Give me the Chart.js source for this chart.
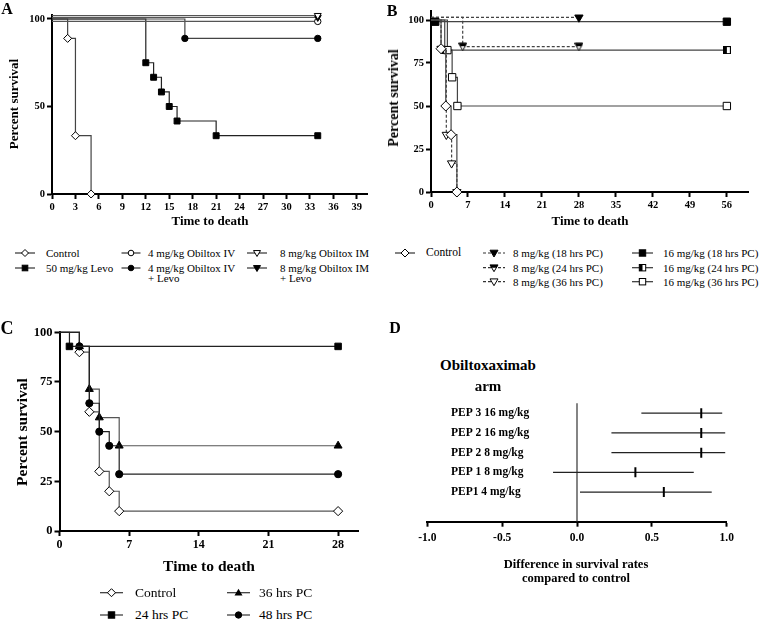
<!DOCTYPE html>
<html><head><meta charset="utf-8">
<script src="https://cdn.jsdelivr.net/npm/chart.js@4.4.1/dist/chart.umd.min.js"></script>
<style>
html,body{margin:0;padding:0;background:#fff;}
#root{position:relative;width:760px;height:622px;overflow:hidden;font-family:"Liberation Serif","Times New Roman",serif;color:#000;}
canvas{position:absolute;}
.t{position:absolute;white-space:nowrap;line-height:1;}
.c{transform:translate(-50%,-50%);}
.r{transform:translate(-50%,-50%) rotate(-90deg);}
.b{font-weight:bold;}
.lg{position:absolute;white-space:nowrap;line-height:1;transform:translateY(-50%);}
#sym{position:absolute;left:0;top:0;overflow:visible;}
</style></head><body><div id="root">
<canvas id="cA" width="380" height="225" style="left:0;top:0"></canvas>
<canvas id="cB" width="380" height="225" style="left:380px;top:0"></canvas>
<canvas id="cC" width="380" height="260" style="left:0;top:300px"></canvas>
<canvas id="cD" width="370" height="160" style="left:390px;top:390px"></canvas>

<div class="t c b" style="left:7px;top:9px;font-size:16px">A</div>
<div class="t c b" style="left:392px;top:11px;font-size:16px">B</div>
<div class="t c b" style="left:7px;top:328px;font-size:18px">C</div>
<div class="t c b" style="left:395px;top:328px;font-size:16px">D</div>

<div class="t r b" style="left:13px;top:104px;font-size:13px">Percent survival</div>
<div class="t c b" style="left:210px;top:220px;font-size:13px">Time to death</div>
<div class="t r b" style="left:394px;top:98px;font-size:14px">Percent survival</div>
<div class="t c b" style="left:590px;top:220px;font-size:13px">Time to death</div>
<div class="t r b" style="left:22px;top:432px;font-size:15.5px">Percent survival</div>
<div class="t c b" style="left:209px;top:566px;font-size:15.5px">Time to death</div>
<div class="t c b" style="left:488px;top:365px;font-size:15px">Obiltoxaximab</div>
<div class="t c b" style="left:488px;top:386px;font-size:15px">arm</div>
<div class="t c b" style="left:576px;top:564px;font-size:12.5px">Difference in survival rates</div>
<div class="t c b" style="left:576px;top:578px;font-size:12.5px">compared to control</div>

<div id="legends"></div>
<svg id="sym" width="760" height="622"></svg>
</div>
<script>
// ---------------- Panel A data ----------------
const aTicksX = [0,3,6,9,12,15,18,21,24,27,30,33,36,39];
const aTicksY = [0,50,100];
const aControlX = [0,2,3,5];
const aControlY = [100,88.9,33.3,0];
const aLevoX = [0,12,13,14,15,16,21,34];
const aLevoY = [100,75,66.7,58.3,50,41.7,33.3,33.3];
const aIV4X = [0,34];
const aIV4Y = [98.6,98.6];
const aIV4LevoX = [0,17,34];
const aIV4LevoY = [100,88.9,88.9];
const aIM8X = [0,34];
const aIM8Y = [102,102];
const aIM8LevoX = [0,34];
const aIM8LevoY = [100.9,100.9];

// ---------------- Panel B data ----------------
const bTicksX = [0,7,14,21,28,35,42,49,56];
const bTicksY = [0,25,50,75,100];
const bControlX = [0,1.9,2.8,3.8,4.9];
const bControlY = [100,83.3,50,33.3,0];
const b8h18X = [0,28];
const b8h18Y = [101.5,101.5];
const b8h24X = [0,6,28];
const b8h24Y = [101.5,84.5,84.5];
const b8h36X = [0,1.9,2.9,3.9,4.9];
const b8h36Y = [100,83.3,33.3,16.7,0];
const b16h18X = [0,0.8,56];
const b16h18Y = [99,99,99];
const b16h24X = [0,2.6,56];
const b16h24Y = [100,82.5,82.5];
const b16h36X = [0,3.1,4,5,56];
const b16h36Y = [100,82.5,66.7,50,50];

// ---------------- Panel C data ----------------
const cTicksX = [0,7,14,21,28];
const cTicksY = [0,25,50,75,100];
const cControlX = [0,2,3,4,5,6,28];
const cControlY = [100,90,60,30,20,10,10];
const c24X = [0,1,28];
const c24Y = [100,92.9,92.9];
const c36X = [0,2,3,4,6,28];
const c36Y = [100,92.9,71.4,57.1,42.9,42.9];
const c48X = [0,2,3,4,5,6,28];
const c48Y = [100,92.9,64.3,50,42.9,28.6,28.6];

// ---------------- Panel D data ----------------
const dTicksX = [-1,-0.5,0,0.5,1];
const dArms = ['PEP 3 16 mg/kg','PEP 2 16 mg/kg','PEP 2 8 mg/kg','PEP 1 8 mg/kg','PEP1 4 mg/kg'];
const dEst  = [0.83,0.83,0.83,0.39,0.58];
const dLow  = [0.43,0.23,0.23,-0.16,0.02];
const dHigh = [0.97,0.99,0.99,0.78,0.90];

// ---------------- helpers ----------------
const FONT = 'Liberation Serif';
function halfSquare(n){
  const c=document.createElement('canvas'); c.width=c.height=n;
  const x=c.getContext('2d');
  x.fillStyle='#fff'; x.fillRect(0,0,n,n);
  x.fillStyle='#000'; x.fillRect(0,0,n/2,n);
  x.strokeStyle='#000'; x.lineWidth=1; x.strokeRect(0.5,0.5,n-1,n-1);
  return c;
}
function halfTriDown(n){
  const c=document.createElement('canvas'); c.width=c.height=n;
  const x=c.getContext('2d');
  x.beginPath(); x.moveTo(0.5,1); x.lineTo(n-0.5,1); x.lineTo(n/2,n-0.5); x.closePath();
  x.fillStyle='#fff'; x.fill();
  x.save(); x.clip(); x.fillStyle='#000'; x.fillRect(0,0,n,n*0.45); x.restore();
  x.strokeStyle='#000'; x.lineWidth=1; x.stroke();
  return c;
}
const SH = {
  diamondOpen:{ps:'rectRot',bg:'#fff'},
  circleOpen:{ps:'circle',bg:'#fff'},
  circleFilled:{ps:'circle',bg:'#000'},
  squareFilled:{ps:'rect',bg:'#000'},
  squareOpen:{ps:'rect',bg:'#fff'},
  squareHalf:{ps:halfSquare(8),bg:'#000'},
  triDownOpen:{ps:'triangle',bg:'#fff',rot:180},
  triDownFilled:{ps:'triangle',bg:'#000',rot:180},
  triDownHalf:{ps:halfTriDown(9),bg:'#000'},
  triUpFilled:{ps:'triangle',bg:'#000'}
};
function km(xs, ys, shape, r, opt){
  opt = opt || {};
  const s = SH[shape];
  return {
    data: xs.map((x,i)=>({x:x, y:ys[i]})),
    stepped: true,
    borderColor: opt.color || '#333',
    borderWidth: opt.lw || 1.2,
    borderDash: opt.dash || [],
    pointStyle: s.ps,
    pointRotation: s.rot || 0,
    pointRadius: xs.map((_,i)=> i===0 ? 0 : r),
    pointBackgroundColor: s.bg,
    pointBorderColor: '#000',
    pointBorderWidth: 1,
    fill: false,
    clip: false
  };
}
function xAxis(min,max,ticks,h,fs,fmt){
  return {
    type:'linear', position:'bottom', min:min, max:max,
    afterBuildTicks: s=>{ s.ticks = ticks.map(v=>({value:v})); },
    afterFit: s=>{ s.height = h; },
    grid:{display:true,drawOnChartArea:false,drawTicks:true,tickLength:5,tickWidth:2,tickColor:'#000',color:'#000'},
    border:{display:true,width:2,color:'#000'},
    ticks:{autoSkip:false,maxRotation:0,minRotation:0,color:'#000',padding:2,
      font:{family:FONT,weight:'bold',size:fs}, callback: fmt || (v=>String(v))}
  };
}
function yAxis(min,max,ticks,w,fs){
  return {
    type:'linear', position:'left', min:min, max:max,
    afterBuildTicks: s=>{ s.ticks = ticks.map(v=>({value:v})); },
    afterFit: s=>{ s.width = w; },
    grid:{display:true,drawOnChartArea:false,drawTicks:true,tickLength:5,tickWidth:2,tickColor:'#000',color:'#000'},
    border:{display:true,width:2,color:'#000'},
    ticks:{autoSkip:false,color:'#000',padding:2,font:{family:FONT,weight:'bold',size:fs}, callback:v=>String(v)}
  };
}
function base(pad){
  return {
    responsive:false, animation:false, events:[],
    layout:{padding:pad},
    plugins:{legend:{display:false},tooltip:{enabled:false},title:{display:false}}
  };
}

// ---------------- Panel A chart ----------------
(function(){
  const o = base({top:14.6,right:13,left:0,bottom:0});
  o.scales = { x: xAxis(0,40.3,aTicksX,31,10.5), y: yAxis(0,102.5,aTicksY,52,10.5) };
  new Chart(document.getElementById('cA'), {
    type:'line',
    data:{datasets:[
      km(aIM8X,aIM8Y,'triDownOpen',4,{color:'#555'}),
      km(aIM8LevoX,aIM8LevoY,'triDownFilled',4,{color:'#555'}),
      km(aIV4X,aIV4Y,'circleOpen',3.2,{color:'#555'}),
      km(aIV4LevoX,aIV4LevoY,'circleFilled',3.2,{color:'#444'}),
      km(aLevoX,aLevoY,'squareFilled',4.2,{color:'#222'}),
      km(aControlX,aControlY,'diamondOpen',4,{color:'#444'})
    ]},
    options:o
  });
})();

// ---------------- Panel B chart ----------------
(function(){
  const o = base({top:11.4,right:12,left:0,bottom:0});
  o.scales = { x: xAxis(0,60,bTicksX,33,10.5), y: yAxis(0,105,bTicksY,51,10.5) };
  new Chart(document.getElementById('cB'), {
    type:'line',
    data:{datasets:[
      km(bControlX,bControlY,'diamondOpen',5,{color:'#444'}),
      km(b8h36X,b8h36Y,'triDownOpen',4.8,{color:'#444',dash:[3,2]}),
      km(b8h24X,b8h24Y,'triDownHalf',4.8,{color:'#444',dash:[3,2]}),
      km(b8h18X,b8h18Y,'triDownFilled',4.8,{color:'#444',dash:[3,2]}),
      km(b16h36X,b16h36Y,'squareOpen',5.2,{color:'#444'}),
      km(b16h24X,b16h24Y,'squareHalf',5.2,{color:'#444'}),
      km(b16h18X,b16h18Y,'squareFilled',5.2,{color:'#444'})
    ]},
    options:o
  });
})();

// ---------------- Panel C chart ----------------
(function(){
  const o = base({top:32.3,right:22,left:0,bottom:0});
  o.scales = { x: xAxis(0,30,cTicksX,29,12), y: yAxis(0,100,cTicksY,59.5,12.5) };
  new Chart(document.getElementById('cC'), {
    type:'line',
    data:{datasets:[
      km(c24X,c24Y,'squareFilled',4.6,{color:'#222'}),
      km(c48X,c48Y,'circleFilled',3.6,{color:'#222'}),
      km(c36X,c36Y,'triUpFilled',4.6,{color:'#555'}),
      km(cControlX,cControlY,'diamondOpen',4.6,{color:'#555'})
    ]},
    options:o
  });
})();

// ---------------- Panel D chart ----------------
(function(){
  const o = base({top:13.3,right:33.3,left:37.3,bottom:0});
  const x = xAxis(-1,1,dTicksX,28.3,11.5,v=>Number(v).toFixed(1));
  x.ticks.padding = 4;
  o.scales = { x: x, y:{type:'linear',display:false,min:-0.5,max:5.5} };
  const ds = [];
  ds.push({data:dEst.map((e,i)=>({x:e,y:dArms.length-i})), showLine:false,
    pointStyle:'line', pointRotation:90, pointRadius:5, pointBorderWidth:2,
    pointBorderColor:'#000', pointBackgroundColor:'#000'});
  dArms.forEach((a,i)=>{
    ds.push({data:[{x:dLow[i],y:dArms.length-i},{x:dHigh[i],y:dArms.length-i}],
      borderColor:'#222', borderWidth:1.3, pointRadius:0, fill:false});
  });
  ds.push({data:[{x:0,y:-0.5},{x:0,y:5.5}], borderColor:'#333', borderWidth:1.2, pointRadius:0, fill:false, clip:false});
  const labels = {
    id:'armLabels',
    afterDraw(chart){
      const ctx = chart.ctx, ys = chart.scales.y;
      ctx.save();
      ctx.font = 'bold 11.5px "'+FONT+'"';
      ctx.fillStyle = '#000'; ctx.textAlign='left'; ctx.textBaseline='middle';
      dArms.forEach((a,i)=> ctx.fillText(a, 61, ys.getPixelForValue(dArms.length-i)));
      ctx.restore();
    }
  };
  new Chart(document.getElementById('cD'), {type:'line', data:{datasets:ds}, options:o, plugins:[labels]});
})();

// ---------------- Legends ----------------
function shapeSVG(type,cx,cy,s){
  const f = /Filled/.test(type) ? '#000' : '#fff';
  if (/^diamond/.test(type)) return `<polygon points="${cx},${cy-s} ${cx+s},${cy} ${cx},${cy+s} ${cx-s},${cy}" fill="${f}" stroke="#000" stroke-width="1"/>`;
  if (/^circle/.test(type)) return `<circle cx="${cx}" cy="${cy}" r="${s*0.8}" fill="${f}" stroke="#000" stroke-width="1"/>`;
  if (/^square/.test(type)) {
    let t = `<rect x="${cx-s*0.8}" y="${cy-s*0.8}" width="${s*1.6}" height="${s*1.6}" fill="${f}" stroke="#000" stroke-width="1"/>`;
    if (/Half/.test(type)) t += `<rect x="${cx-s*0.8}" y="${cy-s*0.8}" width="${s*0.8}" height="${s*1.6}" fill="#000"/>`;
    return t;
  }
  if (/^triDown/.test(type)) {
    let t = `<polygon points="${cx-s},${cy-s*0.7} ${cx+s},${cy-s*0.7} ${cx},${cy+s}" fill="${f}" stroke="#000" stroke-width="1"/>`;
    if (/Half/.test(type)) t += `<polygon points="${cx-s},${cy-s*0.7} ${cx+s},${cy-s*0.7} ${cx+s*0.6},${cy} ${cx-s*0.6},${cy}" fill="#000"/>`;
    return t;
  }
  if (/^triUp/.test(type)) return `<polygon points="${cx-s},${cy+s*0.7} ${cx+s},${cy+s*0.7} ${cx},${cy-s}" fill="${f}"/>`;
  return '';
}
const legendItems = [
  // panel A
  {sx:25,w:20,y:253,tx:46,fs:11,shape:'diamondOpen',s:3.5,text:'Control'},
  {sx:25,w:20,y:268,tx:46,fs:11,shape:'squareFilled',s:3.5,text:'50 mg/kg Levo'},
  {sx:131,w:19,y:253,tx:148,fs:11,shape:'circleOpen',s:3.5,text:'4 mg/kg Obiltox IV'},
  {sx:131,w:19,y:268,tx:148,fs:11,shape:'circleFilled',s:3.5,text:'4 mg/kg Obiltox IV',line2:'+ Levo'},
  {sx:257,w:20,y:253,tx:280,fs:11,shape:'triDownOpen',s:3.5,text:'8 mg/kg Obiltox IM'},
  {sx:257,w:20,y:268,tx:280,fs:11,shape:'triDownFilled',s:3.5,text:'8 mg/kg Obiltox IM',line2:'+ Levo'},
  // panel B
  {sx:405,w:20,y:253,tx:426,fs:11.5,shape:'diamondOpen',s:4,text:'Control'},
  {sx:494,w:22,y:253,tx:513,fs:11,shape:'triDownFilled',s:4,dash:true,text:'8 mg/kg (18 hrs PC)'},
  {sx:494,w:22,y:267.7,tx:513,fs:11,shape:'triDownHalf',s:4,dash:true,text:'8 mg/kg (24 hrs PC)'},
  {sx:494,w:22,y:281.7,tx:513,fs:11,shape:'triDownOpen',s:4,dash:true,text:'8 mg/kg (36 hrs PC)'},
  {sx:642.5,w:21,y:253,tx:663,fs:11,shape:'squareFilled',s:4,text:'16 mg/kg (18 hrs PC)'},
  {sx:642.5,w:21,y:267.7,tx:663,fs:11,shape:'squareHalf',s:4,text:'16 mg/kg (24 hrs PC)'},
  {sx:642.5,w:21,y:281.7,tx:663,fs:11,shape:'squareOpen',s:4,text:'16 mg/kg (36 hrs PC)'},
  // panel C
  {sx:111.5,w:23,y:592.7,tx:135,fs:13.5,shape:'diamondOpen',s:4,text:'Control'},
  {sx:111.5,w:23,y:615,tx:135,fs:13.5,shape:'squareFilled',s:4,text:'24 hrs PC'},
  {sx:238.5,w:23,y:592.7,tx:259,fs:13.5,shape:'triUpFilled',s:4,text:'36 hrs PC'},
  {sx:238.5,w:23,y:615,tx:259,fs:13.5,shape:'circleFilled',s:4,text:'48 hrs PC'}
];
let svg = '', html = '';
legendItems.forEach(it=>{
  svg += `<line x1="${it.sx-it.w/2}" y1="${it.y}" x2="${it.sx+it.w/2}" y2="${it.y}" stroke="#333" stroke-width="1.2" ${it.dash?'stroke-dasharray="3,2"':''}/>`;
  svg += shapeSVG(it.shape,it.sx,it.y,it.s);
  html += `<div class="lg" style="left:${it.tx}px;top:${it.y}px;font-size:${it.fs}px">${it.text}</div>`;
  if (it.line2) html += `<div class="lg" style="left:${it.tx}px;top:${it.y+10}px;font-size:${it.fs}px">${it.line2}</div>`;
});
document.getElementById('sym').innerHTML = svg;
document.getElementById('legends').innerHTML = html;
</script>
</body></html>
